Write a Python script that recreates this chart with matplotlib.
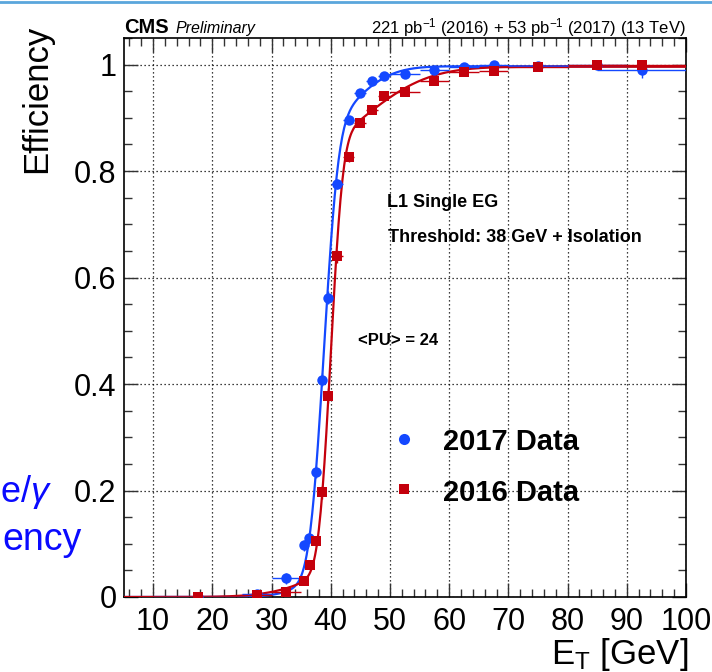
import math
import numpy as np
import matplotlib
matplotlib.use("Agg")
import matplotlib.pyplot as plt
from matplotlib.ticker import MultipleLocator, FuncFormatter
from matplotlib.lines import Line2D

plt.rcParams['font.family'] = ['Liberation Sans', 'DejaVu Sans']
plt.rcParams['mathtext.fontset'] = 'custom'
plt.rcParams['mathtext.rm'] = 'Liberation Sans'
plt.rcParams['mathtext.it'] = 'Liberation Sans:italic'
plt.rcParams['mathtext.bf'] = 'Liberation Sans:bold'

# ---------------- data ----------------
et_2017 = [17.5, 27.5, 32.5, 35.5, 36.3, 37.5, 38.5, 39.5, 41, 43, 45, 47, 49,
           52.5, 57.5, 62.5, 67.5, 75, 85, 92.5]
eff_2017 = [0.0, 0.006, 0.035, 0.097, 0.11, 0.235, 0.408, 0.562, 0.776, 0.896,
            0.946, 0.969, 0.979, 0.983, 0.990, 0.996, 1.0, 0.998, 0.999, 0.99]
xerr_2017 = [7.5, 2.5, 2.5, 0.5, 0.5, 0.5, 0.5, 0.5, 1, 1, 1, 1, 1,
             2.5, 2.5, 2.5, 2.5, 5, 5, 7.5]
yerr_lo_2017 = [0.0, 0.004, 0.01, 0.01, 0.01, 0.012, 0.012, 0.012, 0.01, 0.008,
                0.006, 0.005, 0.005, 0.005, 0.004, 0.004, 0.003, 0.004, 0.006, 0.016]
yerr_hi_2017 = [0.002, 0.004, 0.01, 0.01, 0.01, 0.012, 0.012, 0.012, 0.01, 0.008,
                0.006, 0.005, 0.005, 0.005, 0.004, 0.003, 0.0, 0.002, 0.001, 0.008]

et_2016 = [17.5, 27.5, 32.5, 35.5, 36.5, 37.5, 38.5, 39.5, 41, 43, 45, 47, 49,
           52.5, 57.5, 62.5, 67.5, 75, 85, 92.5]
eff_2016 = [0.0, 0.004, 0.01, 0.03, 0.06, 0.105, 0.197, 0.378, 0.64, 0.826,
            0.89, 0.915, 0.941, 0.949, 0.969, 0.986, 0.988, 0.995, 0.999, 1.0]
xerr_2016 = [7.5, 2.5, 2.5, 0.5, 0.5, 0.5, 0.5, 0.5, 1, 1, 1, 1, 1,
             2.5, 2.5, 2.5, 2.5, 5, 5, 7.5]
yerr_2016 = [0.001, 0.002, 0.004, 0.006, 0.008, 0.01, 0.012, 0.014, 0.012, 0.009,
             0.007, 0.006, 0.005, 0.005, 0.004, 0.003, 0.003, 0.002, 0.001, 0.001]

# fit parameters (double error-function turn-on)
fit_2017 = dict(plateau=0.997, w=0.82, mu1=38.85, s1=1.9, mu2=42.0, s2=6.0)
fit_2016 = dict(plateau=0.996, w=0.80, mu1=40.0, s1=1.6, mu2=45.0, s2=9.0)

y_ticks = [0, 0.2, 0.4, 0.6, 0.8, 1.0]
x_ticks = [10, 20, 30, 40, 50, 60, 70, 80, 90, 100]

blue = '#1448ff'
red = '#c4000c'

_erf = np.vectorize(math.erf)


def turnon(x, p):
    phi1 = 0.5 * (1 + _erf((x - p['mu1']) / (math.sqrt(2) * p['s1'])))
    phi2 = 0.5 * (1 + _erf((x - p['mu2']) / (math.sqrt(2) * p['s2'])))
    return p['plateau'] * (p['w'] * phi1 + (1 - p['w']) * phi2)


W, H = 712, 672
fig = plt.figure(figsize=(W / 100, H / 100), dpi=100)
L, R, B, T = 123.5, 686, 597, 38
ax = fig.add_axes([L / W, 1 - B / H, (R - L) / W, (B - T) / H])
ax.set_xlim(5, 100)
ax.set_ylim(0, 1.05)

# grid
ax.set_xticks(x_ticks)
ax.set_yticks(y_ticks)
ax.grid(True, which='major', color='black', linestyle=(0, (1, 2.2)), linewidth=0.9)
ax.set_axisbelow(True)

# fit curves
xf = np.linspace(5, 100, 600)
ax.plot(xf, turnon(xf, fit_2017), color=blue, lw=1.6, zorder=3)
ax.plot(xf, turnon(xf, fit_2016), color=red, lw=1.6, zorder=3)

# data points
ax.errorbar(et_2017, eff_2017, xerr=xerr_2017, yerr=[yerr_lo_2017, yerr_hi_2017],
            fmt='o', color=blue, ms=7.5, mew=0, elinewidth=1.0, capsize=2,
            capthick=1.0, zorder=4)
ax.errorbar(et_2016, eff_2016, xerr=xerr_2016, yerr=yerr_2016,
            fmt='s', color=red, ms=7, mew=0, elinewidth=1.0, capsize=2,
            capthick=1.0, zorder=5)

# ticks
ax.xaxis.set_minor_locator(MultipleLocator(2))
ax.yaxis.set_minor_locator(MultipleLocator(0.05))
ax.yaxis.set_major_formatter(FuncFormatter(lambda v, p: f"{v:g}"))
ax.tick_params(which='both', direction='in', top=True, right=True, width=1.0,
               color='#333333')
ax.tick_params(which='major', length=10, labelsize=22, pad=5)
ax.tick_params(axis='x', which='major', pad=7)
ax.tick_params(which='minor', length=5.5)
for s in ax.spines.values():
    s.set_linewidth(1.2)

# axis titles
fig.text(37 / W, 1 - 25 / H, 'Efficiency', rotation=90, ha='center', va='top',
         fontsize=25)
fig.text(688 / W, 1 - 664 / H, r'E$_\mathrm{T}$ [GeV]', ha='right',
         va='baseline', fontsize=25)

# header
fig.text(124 / W, 1 - 33 / H, 'CMS', fontsize=14.5, fontweight='bold',
         va='baseline')
fig.text(176 / W, 1 - 33 / H, 'Preliminary', fontsize=11.5, style='italic',
         va='baseline')
fig.text(686 / W, 1 - 33 / H,
         r'221 pb$^{-1}$ (2016) + 53 pb$^{-1}$ (2017) (13 TeV)',
         fontsize=12, ha='right', va='baseline')

# annotations
fig.text(387 / W, 1 - 207 / H, 'L1 Single EG', fontsize=13, fontweight='bold',
         va='baseline')
fig.text(388 / W, 1 - 242 / H, 'Threshold: 38 GeV + Isolation', fontsize=13,
         fontweight='bold', va='baseline')
fig.text(358 / W, 1 - 345 / H, '<PU> = 24', fontsize=12, fontweight='bold',
         va='baseline')

# legend
fig.add_artist(Line2D([404 / W], [1 - 439 / H], marker='o', color=blue, ms=8,
                      mew=0, linestyle='none'))
fig.add_artist(Line2D([404 / W], [1 - 489 / H], marker='s', color=red, ms=7.5,
                      mew=0, linestyle='none'))
fig.text(443 / W, 1 - 450 / H, '2017 Data', fontsize=21, fontweight='bold',
         va='baseline')
fig.text(443 / W, 1 - 501 / H, '2016 Data', fontsize=21, fontweight='bold',
         va='baseline')

# slide remnants
fig.add_artist(Line2D([0, 1], [1 - 1.5 / H, 1 - 1.5 / H], color='#5aa6dc', lw=2))
fig.text(52 / W, 1 - 502 / H, r'e/$\gamma$', ha='right', va='baseline',
         fontsize=26, color='#0a0aff')
fig.text(82 / W, 1 - 550 / H, 'ency', ha='right', va='baseline',
         fontsize=27, color='#0a0aff')

fig.savefig('out.png', dpi=100)
